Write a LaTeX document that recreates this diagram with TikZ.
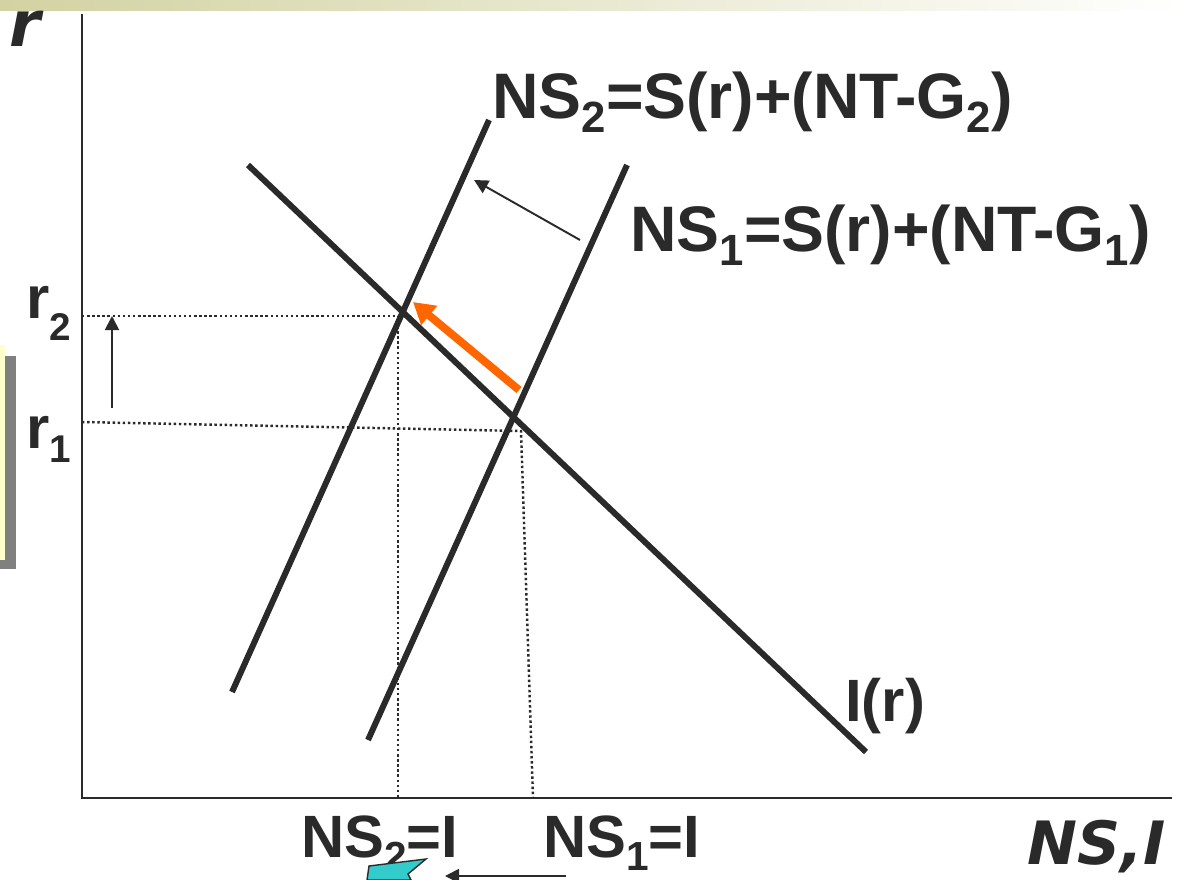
\documentclass[tikz,border=0pt]{standalone}
\usepackage{fontspec}
\setmainfont{Liberation Sans}
\newfontfamily\verdfont{DejaVu Sans}
\usetikzlibrary{arrows.meta,positioning,calc}
\definecolor{inkgray}{RGB}{42,42,42}
\definecolor{shiftorange}{RGB}{255,102,0}
\definecolor{bandolive}{RGB}{210,210,162}
\definecolor{notecyan}{RGB}{51,204,204}
\definecolor{noteyellow}{RGB}{255,255,204}
\definecolor{shadowgray}{RGB}{128,128,128}
\newcommand{\lsub}[1]{\raisebox{-0.22em}{\fontsize{0.68em}{0.68em}\selectfont #1}}
\newcommand{\rsub}[2]{\raisebox{-#1}{\fontsize{22}{22}\selectfont #2}}
\tikzset{
  axisline/.style={draw=inkgray, line width=1.3pt},
  curve/.style={draw=inkgray, line width=3.4pt},
  guide/.style={draw=inkgray, line width=1.4pt, dash pattern=on 1.4pt off 1.5pt},
  thinarrow/.style={draw=inkgray, line width=1.1pt, -{Triangle[length=8pt, width=8pt]}},
  shiftarrow/.style={draw=shiftorange, line width=4.5pt, -{Triangle[length=12pt, width=13.5pt]}},
  lbl/.style={inner sep=0pt, anchor=base west, text=inkgray,
              font=\fontsize{34}{40}\selectfont\bfseries},
  biglbl/.style={lbl, font=\fontsize{36.6}{42}\selectfont\bfseries},
  axlbl/.style={inner sep=0pt, anchor=base west, text=inkgray,
                font=\fontsize{34}{40}\selectfont\verdfont\bfseries\itshape},
}
\begin{document}
\begin{tikzpicture}[x=0.02cm, y=-0.02cm]
\useasboundingbox (0,0) rectangle (1185,879);
\clip (0,0) rectangle (1185,879);

% Title band
\shade[left color=bandolive, right color=white] (0,0) rectangle (1185,10);

% Side note box
\fill[shadowgray] (0,356) rectangle (16,569);
\fill[noteyellow] (0,345) rectangle (5,560);

% Axes
\coordinate (ytop) at (82,14);
\coordinate (origin) at (82,798);
\coordinate (xend) at (1172,798);
\draw[axisline] (ytop) -- (origin) -- (xend);
\node[axlbl, font=\fontsize{36}{42}\selectfont\verdfont\bfseries\itshape] (rlab) at (9,46) {r};
\node[axlbl] (nsilab) at (1027,864) {NS,I};

% Curves
\coordinate (ns2-lo) at (232,692);
\coordinate (ns2-hi) at (489,120);
\coordinate (ns1-lo) at (368,740);
\coordinate (ns1-hi) at (627,165);
\coordinate (inv-hi) at (248,165);
\coordinate (inv-lo) at (866,752);
\draw[curve] (ns2-lo) -- (ns2-hi);
\draw[curve] (ns1-lo) -- (ns1-hi);
\draw[curve] (inv-hi) -- (inv-lo);

% Guides to the axes
\coordinate (r2-tick) at (82,316);
\coordinate (r2-corner) at (398,316);
\coordinate (ns2-foot) at (398,798);
\coordinate (r1-tick) at (82,422);
\coordinate (r1-corner) at (521,431);
\coordinate (ns1-foot) at (533,798);
\draw[guide] (r2-tick) -- (r2-corner) -- (ns2-foot);
\draw[guide] (r1-tick) -- (r1-corner) -- (ns1-foot);

% Shifts
\coordinate (rise-lo) at (112,408);
\coordinate (rise-hi) at (112,316);
\draw[thinarrow] (rise-lo) -- (rise-hi);
\coordinate (move-from) at (580,240);
\coordinate (move-to) at (474,180);
\draw[thinarrow] (move-from) -- (move-to);
\coordinate (eq-from) at (519,390);
\coordinate (eq-to) at (413,302);
\draw[shiftarrow] (eq-from) -- (eq-to);
\coordinate (fall-from) at (566,876);
\coordinate (fall-to) at (445,876);
\draw[thinarrow] (fall-from) -- (fall-to);

% Labels
\node[biglbl] (ns2lab) at (492,118) {NS\lsub{2}=S(r)+(NT-G\lsub{2})};
\node[biglbl] (ns1lab) at (630,251) {NS\lsub{1}=S(r)+(NT-G\lsub{1})};
\node[lbl] (invlab) at (845,721) {I(r)};
\node[lbl] (r2lab) at (26,318) {r\rsub{13pt}{2}};
\node[lbl] (r1lab) at (26,448) {r\rsub{8pt}{1}};
\node[lbl] (ns2ilab) at (301,857) {NS\lsub{2}=I};
\node[lbl] (ns1ilab) at (543,857) {NS\lsub{1}=I};

% Cut-off block arrow
\filldraw[fill=notecyan, draw=inkgray, line width=0.8pt]
  (367,880) -- (369,866) -- (426,859) -- (408,874) -- (411,880) -- cycle;

\end{tikzpicture}
\end{document}
